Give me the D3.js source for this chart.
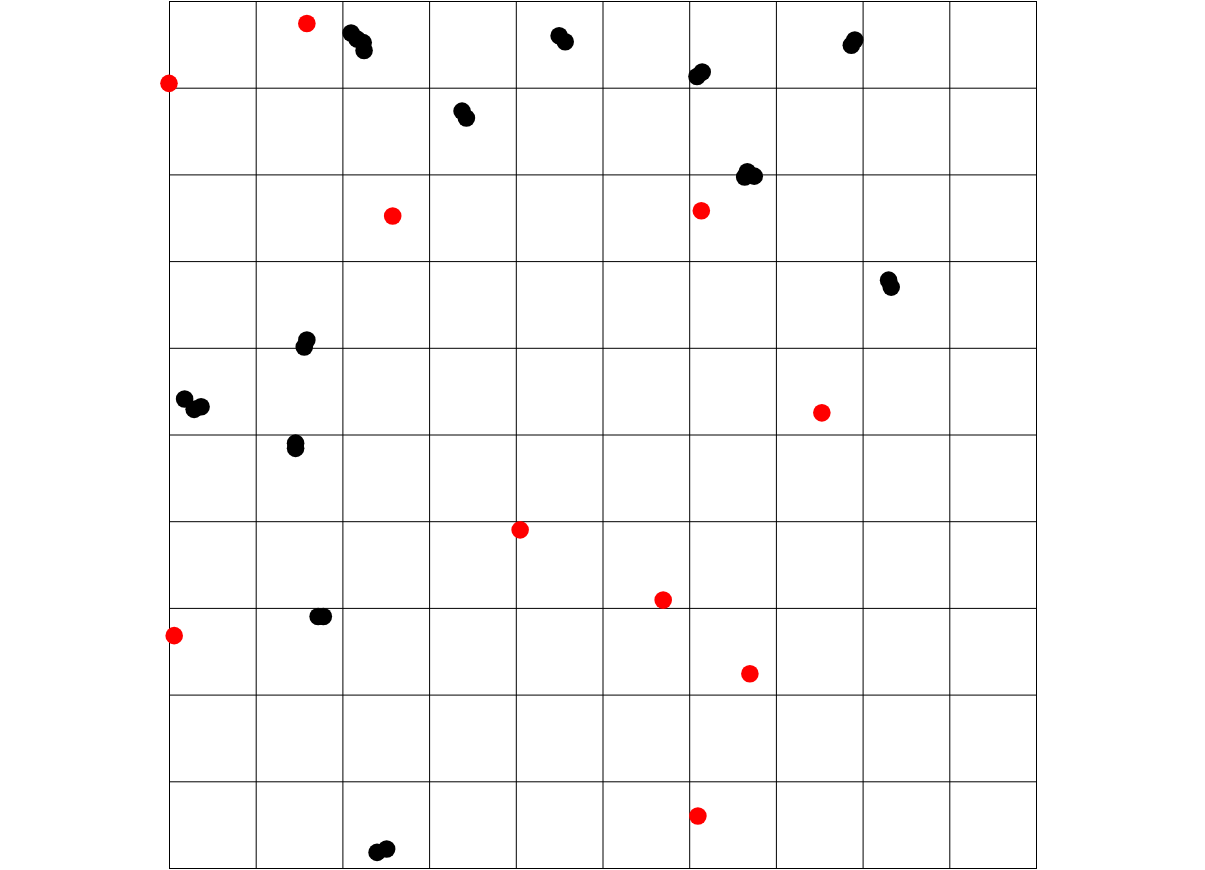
<!DOCTYPE html>
<html><head><meta charset="utf-8">
<script src="https://cdn.jsdelivr.net/npm/d3@7"></script>
<style>html,body{margin:0;padding:0;background:#fff;}svg{display:block;}</style>
</head><body>
<script>
const gridTicks = [0,1,2,3,4,5,6,7,8,9,10];
const redX = [1.59, 0.00, 2.58, 6.14, 7.53, 4.05, 5.70, 0.06, 6.70, 6.10];
const redY = [9.74, 9.05, 7.52, 7.58, 5.25, 3.90, 3.09, 2.68, 2.24, 0.60];
const blackX = [2.10, 2.17, 2.24, 2.25, 4.50, 4.57, 6.09, 6.15, 7.87, 7.91, 3.38, 3.43,
                6.64, 6.67, 6.75, 8.30, 8.33, 1.56, 1.59, 0.18, 0.29, 0.37,
                1.46, 1.46, 1.72, 1.78, 2.40, 2.51];
const blackY = [9.63, 9.56, 9.52, 9.43, 9.60, 9.53, 9.13, 9.18, 9.49, 9.55, 8.73, 8.65,
                7.97, 8.03, 7.98, 6.78, 6.70, 6.01, 6.09, 5.41, 5.29, 5.32,
                4.90, 4.84, 2.90, 2.90, 0.18, 0.22];

const W = 1205, H = 870;
const x0 = 169, y0 = 1, size = 867;
const svg = d3.select("body").append("svg").attr("width", W).attr("height", H);
const x = d3.scaleLinear().domain([0,10]).range([x0, x0+size]);
const y = d3.scaleLinear().domain([0,10]).range([y0+size, y0]);

const g = svg.append("g");
g.selectAll("line.v").data(gridTicks).join("line").attr("class","v")
  .attr("x1", d => x(d)+0.5).attr("x2", d => x(d)+0.5)
  .attr("y1", y(10)).attr("y2", y(0)+1)
  .attr("stroke", "#000").attr("stroke-width", 1);
g.selectAll("line.h").data(gridTicks).join("line").attr("class","h")
  .attr("y1", d => y(d)+0.5).attr("y2", d => y(d)+0.5)
  .attr("x1", x(0)).attr("x2", x(10)+1)
  .attr("stroke", "#000").attr("stroke-width", 1);

const black = blackX.map((v,i) => ({x:v, y:blackY[i]}));
const red = redX.map((v,i) => ({x:v, y:redY[i]}));
svg.append("g").selectAll("circle").data(black).join("circle")
  .attr("cx", d => x(d.x)).attr("cy", d => y(d.y)).attr("r", 8.8).attr("fill", "#000");
svg.append("g").selectAll("circle").data(red).join("circle")
  .attr("cx", d => x(d.x)).attr("cy", d => y(d.y)).attr("r", 8.8).attr("fill", "#ff0000");
</script>
</body></html>
